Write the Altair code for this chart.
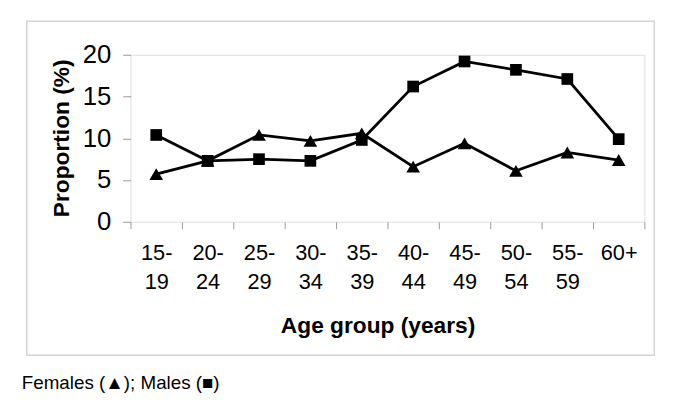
import altair as alt
import pandas as pd

age_groups = ["15-19", "20-24", "25-29", "30-34", "35-39",
              "40-44", "45-49", "50-54", "55-59", "60+"]
females = [5.7, 7.3, 10.4, 9.7, 10.6, 6.6, 9.4, 6.1, 8.3, 7.4]
males = [10.4, 7.3, 7.5, 7.3, 9.8, 16.2, 19.2, 18.2, 17.1, 9.9]
y_ticks = [0, 5, 10, 15, 20]
note = ["Females (▲); Males (■)"]

rows = []
for g, f, m in zip(age_groups, females, males):
    rows.append({"age": g, "sex": "Females", "value": f})
    rows.append({"age": g, "sex": "Males", "value": m})
df = pd.DataFrame(rows)

FONT = "Liberation Sans"

x = alt.X(
    "age:N",
    sort=age_groups,
    scale=alt.Scale(paddingInner=0, paddingOuter=0),
    axis=alt.Axis(
        title="Age group (years)",
        titleFont=FONT, titleFontSize=23, titleFontWeight="bold",
        titleColor="black", titleX=250, titleY=112, titleAnchor="middle",
        titleAlign="center", titleBaseline="alphabetic",
        labelFont=FONT, labelFontSize=22, labelColor="black",
        labelExpr="indexof(datum.label, '-') >= 0 ? [slice(datum.label, 0, indexof(datum.label, '-') + 1), slice(datum.label, indexof(datum.label, '-') + 1)] : datum.label",
        labelLineHeight=30, labelAngle=0, labelPadding=14,
        labelBaseline="top",
        tickBand="extent", tickSize=7, tickColor="#999999",
        domain=False, grid=False,
    ),
)
y = alt.Y(
    "value:Q",
    scale=alt.Scale(domain=[0, 20], nice=False),
    axis=alt.Axis(
        values=y_ticks,
        title="Proportion (%)",
        titleFont=FONT, titleFontSize=23, titleFontWeight="bold",
        titleColor="black", titleAngle=270, titleX=-70, titleY=84,
        titleAlign="center", titleBaseline="middle",
        labelFont=FONT, labelFontSize=26, labelColor="black",
        labelPadding=12, tickSize=8, tickColor="#999999",
        domain=False, grid=False,
    ),
)

base = alt.Chart(df)
lines = base.mark_line(strokeWidth=2.8).encode(
    x=x, y=y,
    color=alt.Color("sex:N", scale=alt.Scale(range=["black", "black"]), legend=None),
)
points = base.mark_point(filled=True, opacity=1).encode(
    x=x, y=y,
    color=alt.Color("sex:N", scale=alt.Scale(range=["black", "black"]), legend=None),
    shape=alt.Shape("sex:N", scale=alt.Scale(domain=["Females", "Males"], range=["triangle-up", "square"]), legend=None),
    size=alt.Size("sex:N", scale=alt.Scale(domain=["Females", "Males"], range=[190, 140]), legend=None),
)

frame = alt.Chart(pd.DataFrame({"a": [0]})).mark_rect(
    fill=None, stroke="#d4d4d4", strokeWidth=1.5
).encode(
    x=alt.value(-105), x2=alt.value(530), y=alt.value(-34), y2=alt.value(304)
)

note_text = alt.Chart(pd.DataFrame({"t": note})).mark_text(
    font=FONT, fontSize=19, align="left", baseline="alphabetic", color="black"
).encode(text="t:N", x=alt.value(-110), y=alt.value(338))

chart = alt.layer(frame, lines, points, note_text).properties(
    width=520, height=169,
    padding={"left": 124, "top": 45, "right": 33, "bottom": 180},
    autosize=alt.AutoSizeParams(type="none"),
).configure_view(stroke="#888888", strokeWidth=1.5).configure(background="white")

chart.save("out.html", embed_options={"renderer": "svg", "actions": False})
